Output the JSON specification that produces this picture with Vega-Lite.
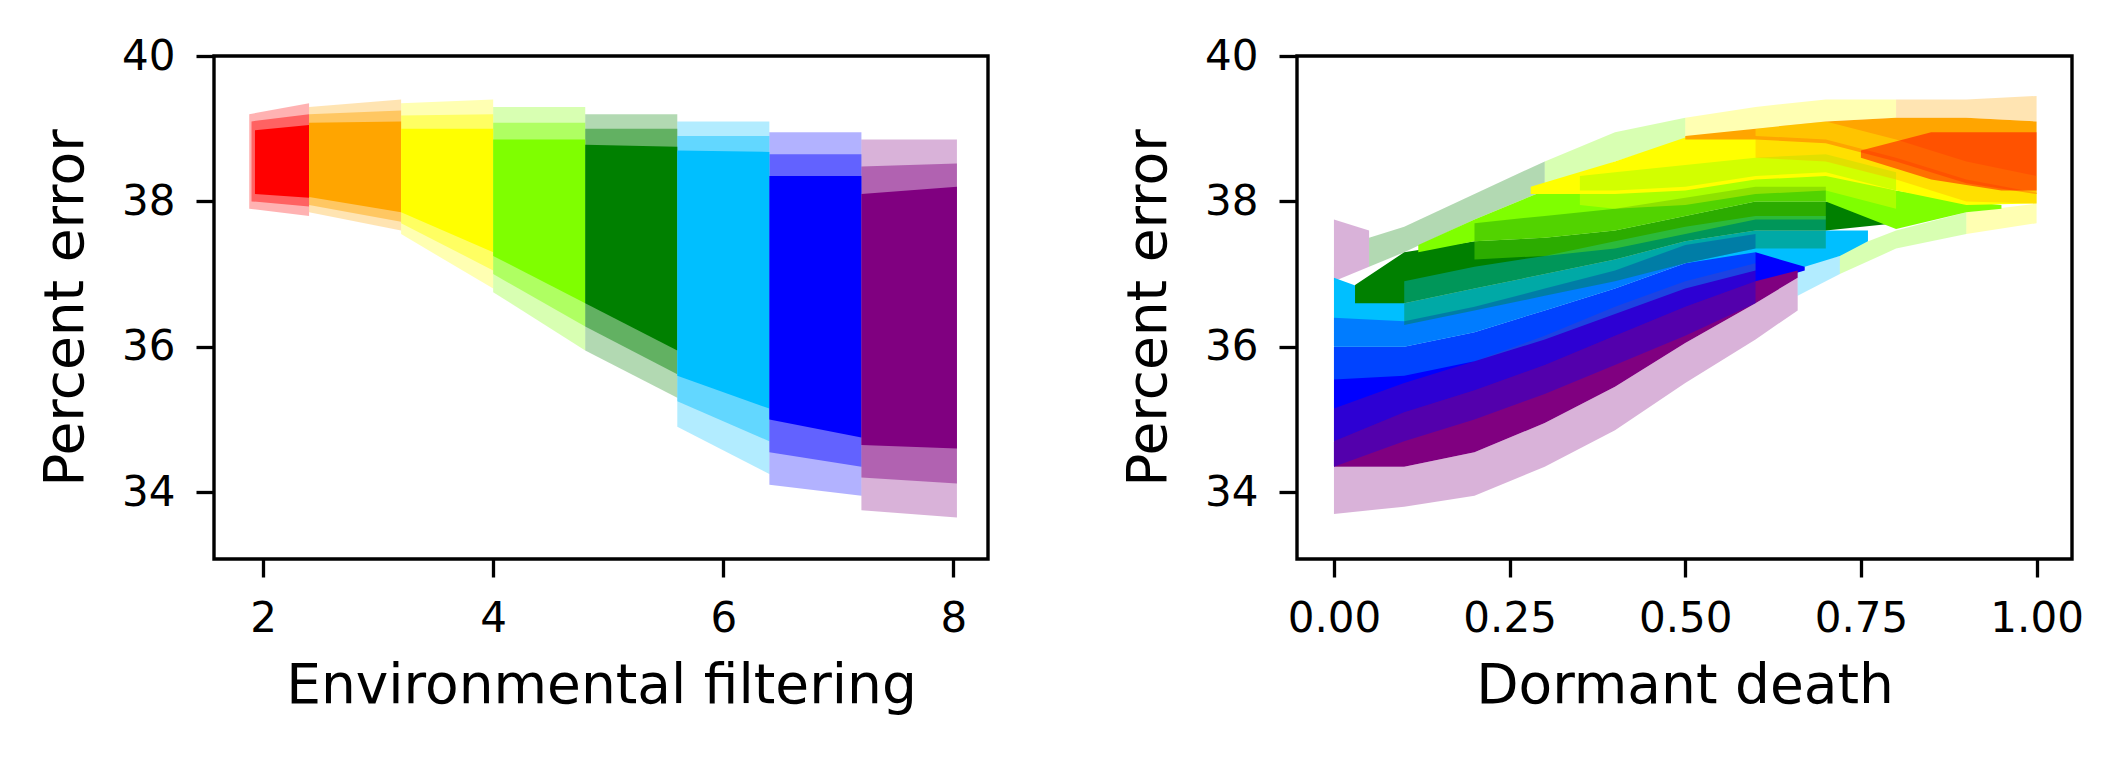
{
  "$schema": "https://vega.github.io/schema/vega-lite/v6.json",
  "padding": {"left": 36, "top": 33, "right": 10, "bottom": 10},
  "background": "white",
  "spacing": 129,
  "datasets": {
    "L": [
      {"s": "0a", "c": "#ff0000", "o": 0.3, "x": 1.88, "lo": 37.9, "hi": 39.2},
      {"s": "0a", "c": "#ff0000", "o": 0.3, "x": 2.4, "lo": 37.8, "hi": 39.35},
      {"s": "0b", "c": "#ffa500", "o": 0.3, "x": 2.4, "lo": 37.85, "hi": 39.3},
      {"s": "0b", "c": "#ffa500", "o": 0.3, "x": 3.2, "lo": 37.6, "hi": 39.4},
      {"s": "0c", "c": "#ffff00", "o": 0.3, "x": 3.2, "lo": 37.55, "hi": 39.35},
      {"s": "0c", "c": "#ffff00", "o": 0.3, "x": 4.0, "lo": 36.8, "hi": 39.4},
      {"s": "0d", "c": "#7fff00", "o": 0.3, "x": 4.0, "lo": 36.75, "hi": 39.3},
      {"s": "0d", "c": "#7fff00", "o": 0.3, "x": 4.8, "lo": 35.95, "hi": 39.3},
      {"s": "0e", "c": "#008000", "o": 0.3, "x": 4.8, "lo": 35.95, "hi": 39.2},
      {"s": "0e", "c": "#008000", "o": 0.3, "x": 5.6, "lo": 35.3, "hi": 39.2},
      {"s": "0f", "c": "#00bfff", "o": 0.3, "x": 5.6, "lo": 34.9, "hi": 39.1},
      {"s": "0f", "c": "#00bfff", "o": 0.3, "x": 6.4, "lo": 34.25, "hi": 39.1},
      {"s": "0g", "c": "#0000ff", "o": 0.3, "x": 6.4, "lo": 34.1, "hi": 38.95},
      {"s": "0g", "c": "#0000ff", "o": 0.3, "x": 7.2, "lo": 33.95, "hi": 38.95},
      {"s": "0h", "c": "#800080", "o": 0.3, "x": 7.2, "lo": 33.75, "hi": 38.85},
      {"s": "0h", "c": "#800080", "o": 0.3, "x": 8.03, "lo": 33.65, "hi": 38.85},
      {"s": "1a", "c": "#ff0000", "o": 0.45, "x": 1.9, "lo": 38.0, "hi": 39.1},
      {"s": "1a", "c": "#ff0000", "o": 0.45, "x": 2.4, "lo": 37.93, "hi": 39.2},
      {"s": "1b", "c": "#ffa500", "o": 0.45, "x": 2.4, "lo": 37.95, "hi": 39.2},
      {"s": "1b", "c": "#ffa500", "o": 0.45, "x": 3.2, "lo": 37.72, "hi": 39.25},
      {"s": "1c", "c": "#ffff00", "o": 0.45, "x": 3.2, "lo": 37.7, "hi": 39.18},
      {"s": "1c", "c": "#ffff00", "o": 0.45, "x": 4.0, "lo": 37.05, "hi": 39.2},
      {"s": "1d", "c": "#7fff00", "o": 0.45, "x": 4.0, "lo": 37.0, "hi": 39.08},
      {"s": "1d", "c": "#7fff00", "o": 0.45, "x": 4.8, "lo": 36.28, "hi": 39.08},
      {"s": "1e", "c": "#008000", "o": 0.45, "x": 4.8, "lo": 36.28, "hi": 39.0},
      {"s": "1e", "c": "#008000", "o": 0.45, "x": 5.6, "lo": 35.62, "hi": 39.0},
      {"s": "1f", "c": "#00bfff", "o": 0.45, "x": 5.6, "lo": 35.25, "hi": 38.9},
      {"s": "1f", "c": "#00bfff", "o": 0.45, "x": 6.4, "lo": 34.7, "hi": 38.9},
      {"s": "1g", "c": "#0000ff", "o": 0.45, "x": 6.4, "lo": 34.55, "hi": 38.65},
      {"s": "1g", "c": "#0000ff", "o": 0.45, "x": 7.2, "lo": 34.35, "hi": 38.65},
      {"s": "1h", "c": "#800080", "o": 0.45, "x": 7.2, "lo": 34.2, "hi": 38.48},
      {"s": "1h", "c": "#800080", "o": 0.45, "x": 8.03, "lo": 34.12, "hi": 38.52},
      {"s": "2a", "c": "#ff0000", "o": 1, "x": 1.93, "lo": 38.1, "hi": 38.98},
      {"s": "2a", "c": "#ff0000", "o": 1, "x": 2.4, "lo": 38.05, "hi": 39.05},
      {"s": "2b", "c": "#ffa500", "o": 1, "x": 2.4, "lo": 38.06, "hi": 39.08},
      {"s": "2b", "c": "#ffa500", "o": 1, "x": 3.2, "lo": 37.85, "hi": 39.1},
      {"s": "2c", "c": "#ffff00", "o": 1, "x": 3.2, "lo": 37.85, "hi": 39.0},
      {"s": "2c", "c": "#ffff00", "o": 1, "x": 4.0, "lo": 37.3, "hi": 39.0},
      {"s": "2d", "c": "#7fff00", "o": 1, "x": 4.0, "lo": 37.25, "hi": 38.85},
      {"s": "2d", "c": "#7fff00", "o": 1, "x": 4.8, "lo": 36.6, "hi": 38.85},
      {"s": "2e", "c": "#008000", "o": 1, "x": 4.8, "lo": 36.6, "hi": 38.78},
      {"s": "2e", "c": "#008000", "o": 1, "x": 5.6, "lo": 35.95, "hi": 38.75},
      {"s": "2f", "c": "#00bfff", "o": 1, "x": 5.6, "lo": 35.6, "hi": 38.7},
      {"s": "2f", "c": "#00bfff", "o": 1, "x": 6.4, "lo": 35.15, "hi": 38.68},
      {"s": "2g", "c": "#0000ff", "o": 1, "x": 6.4, "lo": 35.0, "hi": 38.35},
      {"s": "2g", "c": "#0000ff", "o": 1, "x": 7.2, "lo": 34.75, "hi": 38.35},
      {"s": "2h", "c": "#800080", "o": 1, "x": 7.2, "lo": 34.65, "hi": 38.1},
      {"s": "2h", "c": "#800080", "o": 1, "x": 8.03, "lo": 34.6, "hi": 38.2}
    ],
    "R": [
      {"s": "0a", "c": "#800080", "o": 0.3, "x": 0.0, "lo": 36.9, "hi": 37.75},
      {"s": "0a", "c": "#800080", "o": 0.3, "x": 0.05, "lo": 37.1, "hi": 37.6},
      {"s": "0b", "c": "#008000", "o": 0.3, "x": 0.05, "lo": 37.1, "hi": 37.5},
      {"s": "0b", "c": "#008000", "o": 0.3, "x": 0.1, "lo": 37.3, "hi": 37.65},
      {"s": "0b", "c": "#008000", "o": 0.3, "x": 0.2, "lo": 37.75, "hi": 38.1},
      {"s": "0b", "c": "#008000", "o": 0.3, "x": 0.3, "lo": 38.15, "hi": 38.55},
      {"s": "0c", "c": "#7fff00", "o": 0.3, "x": 0.3, "lo": 38.15, "hi": 38.55},
      {"s": "0c", "c": "#7fff00", "o": 0.3, "x": 0.4, "lo": 38.55, "hi": 38.95},
      {"s": "0c", "c": "#7fff00", "o": 0.3, "x": 0.5, "lo": 38.85, "hi": 39.15},
      {"s": "0d", "c": "#ffff00", "o": 0.3, "x": 0.5, "lo": 38.85, "hi": 39.15},
      {"s": "0d", "c": "#ffff00", "o": 0.3, "x": 0.6, "lo": 39.0, "hi": 39.3},
      {"s": "0d", "c": "#ffff00", "o": 0.3, "x": 0.7, "lo": 39.1, "hi": 39.4},
      {"s": "0d", "c": "#ffff00", "o": 0.3, "x": 0.8, "lo": 39.15, "hi": 39.4},
      {"s": "0e", "c": "#ffa500", "o": 0.3, "x": 0.8, "lo": 39.15, "hi": 39.4},
      {"s": "0e", "c": "#ffa500", "o": 0.3, "x": 0.9, "lo": 39.15, "hi": 39.4},
      {"s": "0e", "c": "#ffa500", "o": 0.3, "x": 1.0, "lo": 39.1, "hi": 39.45},
      {"s": "0f", "c": "#800080", "o": 0.3, "x": 0.0, "lo": 33.7, "hi": 34.35},
      {"s": "0f", "c": "#800080", "o": 0.3, "x": 0.1, "lo": 33.8, "hi": 34.35},
      {"s": "0f", "c": "#800080", "o": 0.3, "x": 0.2, "lo": 33.95, "hi": 34.55},
      {"s": "0f", "c": "#800080", "o": 0.3, "x": 0.3, "lo": 34.35, "hi": 34.95},
      {"s": "0f", "c": "#800080", "o": 0.3, "x": 0.4, "lo": 34.85, "hi": 35.45},
      {"s": "0f", "c": "#800080", "o": 0.3, "x": 0.5, "lo": 35.5, "hi": 36.05},
      {"s": "0f", "c": "#800080", "o": 0.3, "x": 0.6, "lo": 36.1, "hi": 36.6},
      {"s": "0f", "c": "#800080", "o": 0.3, "x": 0.66, "lo": 36.5, "hi": 36.95},
      {"s": "0g", "c": "#00bfff", "o": 0.3, "x": 0.66, "lo": 36.7, "hi": 37.1},
      {"s": "0g", "c": "#00bfff", "o": 0.3, "x": 0.72, "lo": 37.0, "hi": 37.25},
      {"s": "0h", "c": "#7fff00", "o": 0.3, "x": 0.72, "lo": 37.0, "hi": 37.3},
      {"s": "0h", "c": "#7fff00", "o": 0.3, "x": 0.8, "lo": 37.35, "hi": 37.6},
      {"s": "0h", "c": "#7fff00", "o": 0.3, "x": 0.9, "lo": 37.55, "hi": 37.85},
      {"s": "0i", "c": "#ffff00", "o": 0.3, "x": 0.9, "lo": 37.55, "hi": 37.85},
      {"s": "0i", "c": "#ffff00", "o": 0.3, "x": 1.0, "lo": 37.7, "hi": 37.97},
      {"s": "1a", "c": "#0000ff", "o": 1, "x": 0.0, "lo": 34.35, "hi": 36.0},
      {"s": "1a", "c": "#0000ff", "o": 1, "x": 0.1, "lo": 34.9, "hi": 36.0},
      {"s": "1a", "c": "#0000ff", "o": 1, "x": 0.2, "lo": 35.3, "hi": 36.2},
      {"s": "1a", "c": "#0000ff", "o": 1, "x": 0.3, "lo": 35.7, "hi": 36.5},
      {"s": "1a", "c": "#0000ff", "o": 1, "x": 0.4, "lo": 36.1, "hi": 36.8},
      {"s": "1a", "c": "#0000ff", "o": 1, "x": 0.5, "lo": 36.5, "hi": 37.15},
      {"s": "1a", "c": "#0000ff", "o": 1, "x": 0.6, "lo": 36.85, "hi": 37.35},
      {"s": "1a", "c": "#0000ff", "o": 1, "x": 0.67, "lo": 37.05, "hi": 37.4},
      {"s": "1b", "c": "#800080", "o": 1, "x": 0.0, "lo": 34.35, "hi": 34.7},
      {"s": "1b", "c": "#800080", "o": 1, "x": 0.1, "lo": 34.35, "hi": 35.1},
      {"s": "1b", "c": "#800080", "o": 1, "x": 0.2, "lo": 34.55, "hi": 35.4},
      {"s": "1b", "c": "#800080", "o": 1, "x": 0.3, "lo": 34.95, "hi": 35.75},
      {"s": "1b", "c": "#800080", "o": 1, "x": 0.4, "lo": 35.45, "hi": 36.15},
      {"s": "1b", "c": "#800080", "o": 1, "x": 0.5, "lo": 36.05, "hi": 36.55},
      {"s": "1b", "c": "#800080", "o": 1, "x": 0.6, "lo": 36.6, "hi": 36.9},
      {"s": "1b", "c": "#800080", "o": 1, "x": 0.66, "lo": 36.95, "hi": 37.05},
      {"s": "1c", "c": "#00bfff", "o": 1, "x": 0.0, "lo": 36.0, "hi": 36.95},
      {"s": "1c", "c": "#00bfff", "o": 1, "x": 0.1, "lo": 36.0, "hi": 36.6},
      {"s": "1c", "c": "#00bfff", "o": 1, "x": 0.2, "lo": 36.2, "hi": 36.8},
      {"s": "1c", "c": "#00bfff", "o": 1, "x": 0.3, "lo": 36.5, "hi": 37.0},
      {"s": "1c", "c": "#00bfff", "o": 1, "x": 0.4, "lo": 36.8, "hi": 37.2},
      {"s": "1c", "c": "#00bfff", "o": 1, "x": 0.5, "lo": 37.15, "hi": 37.45},
      {"s": "1c", "c": "#00bfff", "o": 1, "x": 0.6, "lo": 37.3, "hi": 37.6},
      {"s": "1c", "c": "#00bfff", "o": 1, "x": 0.67, "lo": 37.1, "hi": 37.6},
      {"s": "1c", "c": "#00bfff", "o": 1, "x": 0.72, "lo": 37.25, "hi": 37.6},
      {"s": "1c", "c": "#00bfff", "o": 1, "x": 0.76, "lo": 37.45, "hi": 37.6},
      {"s": "1d", "c": "#008000", "o": 1, "x": 0.03, "lo": 36.6, "hi": 36.85},
      {"s": "1d", "c": "#008000", "o": 1, "x": 0.1, "lo": 36.6, "hi": 37.3},
      {"s": "1d", "c": "#008000", "o": 1, "x": 0.2, "lo": 36.8, "hi": 37.45},
      {"s": "1d", "c": "#008000", "o": 1, "x": 0.3, "lo": 37.0, "hi": 37.5},
      {"s": "1d", "c": "#008000", "o": 1, "x": 0.4, "lo": 37.2, "hi": 37.6},
      {"s": "1d", "c": "#008000", "o": 1, "x": 0.5, "lo": 37.45, "hi": 37.8},
      {"s": "1d", "c": "#008000", "o": 1, "x": 0.6, "lo": 37.6, "hi": 38.0},
      {"s": "1d", "c": "#008000", "o": 1, "x": 0.7, "lo": 37.6, "hi": 38.0},
      {"s": "1d", "c": "#008000", "o": 1, "x": 0.8, "lo": 37.7, "hi": 37.85},
      {"s": "1e", "c": "#7fff00", "o": 1, "x": 0.12, "lo": 37.3, "hi": 37.4},
      {"s": "1e", "c": "#7fff00", "o": 1, "x": 0.2, "lo": 37.45, "hi": 37.75},
      {"s": "1e", "c": "#7fff00", "o": 1, "x": 0.3, "lo": 37.5, "hi": 38.15},
      {"s": "1e", "c": "#7fff00", "o": 1, "x": 0.4, "lo": 37.6, "hi": 38.15},
      {"s": "1e", "c": "#7fff00", "o": 1, "x": 0.5, "lo": 37.8, "hi": 38.2},
      {"s": "1e", "c": "#7fff00", "o": 1, "x": 0.6, "lo": 38.0, "hi": 38.35},
      {"s": "1e", "c": "#7fff00", "o": 1, "x": 0.7, "lo": 38.0, "hi": 38.4},
      {"s": "1e", "c": "#7fff00", "o": 1, "x": 0.8, "lo": 37.62, "hi": 38.15},
      {"s": "1e", "c": "#7fff00", "o": 1, "x": 0.9, "lo": 37.85, "hi": 38.0},
      {"s": "1e", "c": "#7fff00", "o": 1, "x": 0.95, "lo": 37.9, "hi": 37.95},
      {"s": "1f", "c": "#ffff00", "o": 1, "x": 0.28, "lo": 38.1, "hi": 38.2},
      {"s": "1f", "c": "#ffff00", "o": 1, "x": 0.4, "lo": 38.1, "hi": 38.55},
      {"s": "1f", "c": "#ffff00", "o": 1, "x": 0.5, "lo": 38.15, "hi": 38.88},
      {"s": "1f", "c": "#ffff00", "o": 1, "x": 0.6, "lo": 38.3, "hi": 38.9},
      {"s": "1f", "c": "#ffff00", "o": 1, "x": 0.7, "lo": 38.35, "hi": 38.85},
      {"s": "1f", "c": "#ffff00", "o": 1, "x": 0.8, "lo": 38.15, "hi": 38.6},
      {"s": "1f", "c": "#ffff00", "o": 1, "x": 0.9, "lo": 37.95, "hi": 38.3},
      {"s": "1f", "c": "#ffff00", "o": 1, "x": 1.0, "lo": 37.97, "hi": 38.12},
      {"s": "1g", "c": "#ffa500", "o": 1, "x": 0.5, "lo": 38.85, "hi": 38.9},
      {"s": "1g", "c": "#ffa500", "o": 1, "x": 0.6, "lo": 38.85, "hi": 39.0},
      {"s": "1g", "c": "#ffa500", "o": 1, "x": 0.7, "lo": 38.8, "hi": 39.1},
      {"s": "1g", "c": "#ffa500", "o": 1, "x": 0.8, "lo": 38.55, "hi": 39.15},
      {"s": "1g", "c": "#ffa500", "o": 1, "x": 0.9, "lo": 38.25, "hi": 39.15},
      {"s": "1g", "c": "#ffa500", "o": 1, "x": 1.0, "lo": 38.1, "hi": 39.1},
      {"s": "2a", "c": "#0000ff", "o": 0.35, "x": 0.0, "lo": 34.35, "hi": 34.7},
      {"s": "2a", "c": "#0000ff", "o": 0.35, "x": 0.1, "lo": 34.7, "hi": 35.1},
      {"s": "2a", "c": "#0000ff", "o": 0.35, "x": 0.2, "lo": 35.0, "hi": 35.4},
      {"s": "2a", "c": "#0000ff", "o": 0.35, "x": 0.3, "lo": 35.35, "hi": 35.75},
      {"s": "2a", "c": "#0000ff", "o": 0.35, "x": 0.4, "lo": 35.75, "hi": 36.15},
      {"s": "2a", "c": "#0000ff", "o": 0.35, "x": 0.5, "lo": 36.15, "hi": 36.55},
      {"s": "2a", "c": "#0000ff", "o": 0.35, "x": 0.6, "lo": 36.6, "hi": 36.9},
      {"s": "2b", "c": "#800080", "o": 0.35, "x": 0.0, "lo": 34.7, "hi": 35.15},
      {"s": "2b", "c": "#800080", "o": 0.35, "x": 0.1, "lo": 35.1, "hi": 35.5},
      {"s": "2b", "c": "#800080", "o": 0.35, "x": 0.2, "lo": 35.4, "hi": 35.8},
      {"s": "2b", "c": "#800080", "o": 0.35, "x": 0.3, "lo": 35.75, "hi": 36.15},
      {"s": "2b", "c": "#800080", "o": 0.35, "x": 0.4, "lo": 36.15, "hi": 36.55},
      {"s": "2b", "c": "#800080", "o": 0.35, "x": 0.5, "lo": 36.55, "hi": 36.9},
      {"s": "2b", "c": "#800080", "o": 0.35, "x": 0.6, "lo": 36.9, "hi": 37.15},
      {"s": "2c", "c": "#00bfff", "o": 0.35, "x": 0.0, "lo": 35.55, "hi": 36.0},
      {"s": "2c", "c": "#00bfff", "o": 0.35, "x": 0.1, "lo": 35.6, "hi": 36.0},
      {"s": "2c", "c": "#00bfff", "o": 0.35, "x": 0.2, "lo": 35.8, "hi": 36.2},
      {"s": "2c", "c": "#00bfff", "o": 0.35, "x": 0.3, "lo": 36.1, "hi": 36.5},
      {"s": "2c", "c": "#00bfff", "o": 0.35, "x": 0.4, "lo": 36.45, "hi": 36.8},
      {"s": "2c", "c": "#00bfff", "o": 0.35, "x": 0.5, "lo": 36.8, "hi": 37.15},
      {"s": "2c", "c": "#00bfff", "o": 0.35, "x": 0.6, "lo": 37.05, "hi": 37.35},
      {"s": "2d", "c": "#0000ff", "o": 0.35, "x": 0.0, "lo": 36.0, "hi": 36.4},
      {"s": "2d", "c": "#0000ff", "o": 0.35, "x": 0.1, "lo": 36.0, "hi": 36.35},
      {"s": "2d", "c": "#0000ff", "o": 0.35, "x": 0.2, "lo": 36.2, "hi": 36.55},
      {"s": "2d", "c": "#0000ff", "o": 0.35, "x": 0.3, "lo": 36.5, "hi": 36.8},
      {"s": "2d", "c": "#0000ff", "o": 0.35, "x": 0.4, "lo": 36.8, "hi": 37.05},
      {"s": "2d", "c": "#0000ff", "o": 0.35, "x": 0.5, "lo": 37.15, "hi": 37.4},
      {"s": "2d", "c": "#0000ff", "o": 0.35, "x": 0.6, "lo": 37.35, "hi": 37.55},
      {"s": "2e", "c": "#008000", "o": 0.35, "x": 0.1, "lo": 36.3, "hi": 36.6},
      {"s": "2e", "c": "#008000", "o": 0.35, "x": 0.2, "lo": 36.5, "hi": 36.8},
      {"s": "2e", "c": "#008000", "o": 0.35, "x": 0.3, "lo": 36.7, "hi": 37.0},
      {"s": "2e", "c": "#008000", "o": 0.35, "x": 0.4, "lo": 36.9, "hi": 37.2},
      {"s": "2e", "c": "#008000", "o": 0.35, "x": 0.5, "lo": 37.15, "hi": 37.45},
      {"s": "2e", "c": "#008000", "o": 0.35, "x": 0.6, "lo": 37.35, "hi": 37.6},
      {"s": "2e", "c": "#008000", "o": 0.35, "x": 0.7, "lo": 37.35, "hi": 37.6},
      {"s": "2f", "c": "#00bfff", "o": 0.35, "x": 0.1, "lo": 36.6, "hi": 36.9},
      {"s": "2f", "c": "#00bfff", "o": 0.35, "x": 0.2, "lo": 36.8, "hi": 37.1},
      {"s": "2f", "c": "#00bfff", "o": 0.35, "x": 0.3, "lo": 37.0, "hi": 37.25},
      {"s": "2f", "c": "#00bfff", "o": 0.35, "x": 0.4, "lo": 37.2, "hi": 37.45},
      {"s": "2f", "c": "#00bfff", "o": 0.35, "x": 0.5, "lo": 37.45, "hi": 37.65},
      {"s": "2f", "c": "#00bfff", "o": 0.35, "x": 0.6, "lo": 37.6, "hi": 37.8},
      {"s": "2f", "c": "#00bfff", "o": 0.35, "x": 0.7, "lo": 37.6, "hi": 37.8},
      {"s": "2g", "c": "#7fff00", "o": 0.35, "x": 0.2, "lo": 37.2, "hi": 37.45},
      {"s": "2g", "c": "#7fff00", "o": 0.35, "x": 0.3, "lo": 37.25, "hi": 37.5},
      {"s": "2g", "c": "#7fff00", "o": 0.35, "x": 0.4, "lo": 37.35, "hi": 37.6},
      {"s": "2g", "c": "#7fff00", "o": 0.35, "x": 0.5, "lo": 37.55, "hi": 37.8},
      {"s": "2g", "c": "#7fff00", "o": 0.35, "x": 0.6, "lo": 37.75, "hi": 38.0},
      {"s": "2g", "c": "#7fff00", "o": 0.35, "x": 0.7, "lo": 37.75, "hi": 38.0},
      {"s": "2h", "c": "#008000", "o": 0.35, "x": 0.2, "lo": 37.45, "hi": 37.7},
      {"s": "2h", "c": "#008000", "o": 0.35, "x": 0.3, "lo": 37.5, "hi": 37.8},
      {"s": "2h", "c": "#008000", "o": 0.35, "x": 0.4, "lo": 37.6, "hi": 37.9},
      {"s": "2h", "c": "#008000", "o": 0.35, "x": 0.5, "lo": 37.8, "hi": 38.05},
      {"s": "2h", "c": "#008000", "o": 0.35, "x": 0.6, "lo": 38.0, "hi": 38.2},
      {"s": "2h", "c": "#008000", "o": 0.35, "x": 0.7, "lo": 38.0, "hi": 38.2},
      {"s": "2i", "c": "#ffff00", "o": 0.35, "x": 0.35, "lo": 37.95, "hi": 38.15},
      {"s": "2i", "c": "#ffff00", "o": 0.35, "x": 0.4, "lo": 37.9, "hi": 38.15},
      {"s": "2i", "c": "#ffff00", "o": 0.35, "x": 0.5, "lo": 37.95, "hi": 38.2},
      {"s": "2i", "c": "#ffff00", "o": 0.35, "x": 0.6, "lo": 38.1, "hi": 38.35},
      {"s": "2i", "c": "#ffff00", "o": 0.35, "x": 0.7, "lo": 38.15, "hi": 38.4},
      {"s": "2i", "c": "#ffff00", "o": 0.35, "x": 0.8, "lo": 37.9, "hi": 38.15},
      {"s": "2j", "c": "#7fff00", "o": 0.35, "x": 0.35, "lo": 38.15, "hi": 38.35},
      {"s": "2j", "c": "#7fff00", "o": 0.35, "x": 0.4, "lo": 38.15, "hi": 38.4},
      {"s": "2j", "c": "#7fff00", "o": 0.35, "x": 0.5, "lo": 38.2, "hi": 38.5},
      {"s": "2j", "c": "#7fff00", "o": 0.35, "x": 0.6, "lo": 38.35, "hi": 38.6},
      {"s": "2j", "c": "#7fff00", "o": 0.35, "x": 0.7, "lo": 38.4, "hi": 38.65},
      {"s": "2j", "c": "#7fff00", "o": 0.35, "x": 0.8, "lo": 38.15, "hi": 38.4},
      {"s": "2k", "c": "#ffa500", "o": 0.35, "x": 0.6, "lo": 38.6, "hi": 38.9},
      {"s": "2k", "c": "#ffa500", "o": 0.35, "x": 0.7, "lo": 38.55, "hi": 38.85},
      {"s": "2k", "c": "#ffa500", "o": 0.35, "x": 0.8, "lo": 38.3, "hi": 38.6},
      {"s": "2k", "c": "#ffa500", "o": 0.35, "x": 0.9, "lo": 38.0, "hi": 38.3},
      {"s": "2k", "c": "#ffa500", "o": 0.35, "x": 1.0, "lo": 37.97, "hi": 38.12},
      {"s": "2l", "c": "#ffff00", "o": 0.35, "x": 0.6, "lo": 38.9, "hi": 39.0},
      {"s": "2l", "c": "#ffff00", "o": 0.35, "x": 0.7, "lo": 38.85, "hi": 39.1},
      {"s": "2l", "c": "#ffff00", "o": 0.35, "x": 0.8, "lo": 38.6, "hi": 38.85},
      {"s": "2l", "c": "#ffff00", "o": 0.35, "x": 0.9, "lo": 38.3, "hi": 38.55},
      {"s": "2l", "c": "#ffff00", "o": 0.35, "x": 1.0, "lo": 38.12, "hi": 38.35},
      {"s": "3a", "c": "#ff0000", "o": 0.5, "x": 0.75, "lo": 38.6, "hi": 38.7},
      {"s": "3a", "c": "#ff0000", "o": 0.5, "x": 0.85, "lo": 38.3, "hi": 38.95},
      {"s": "3a", "c": "#ff0000", "o": 0.5, "x": 0.95, "lo": 38.15, "hi": 38.95},
      {"s": "3a", "c": "#ff0000", "o": 0.5, "x": 1.0, "lo": 38.15, "hi": 38.95}
    ]
  },
  "hconcat": [
    {
      "width": 774,
      "height": 503,
      "data": {"name": "L"},
      "mark": {"type": "area", "interpolate": "linear"},
      "encoding": {
        "x": {"field": "x", "type": "quantitative", "scale": {"domain": [1.574, 8.3], "nice": false, "zero": false}, "axis": {"values": [2, 4, 6, 8], "format": "d", "title": "Environmental filtering"}},
        "y": {"field": "lo", "type": "quantitative", "scale": {"domain": [33.08, 40], "nice": false, "zero": false}, "axis": {"values": [34, 36, 38, 40], "format": "d", "title": "Percent error"}},
        "y2": {"field": "hi"},
        "color": {"field": "c", "type": "nominal", "scale": null},
        "detail": {"field": "s", "type": "nominal"},
        "opacity": {"field": "o", "type": "quantitative", "scale": null}
      }
    },
    {
      "width": 775,
      "height": 503,
      "data": {"name": "R"},
      "mark": {"type": "area", "interpolate": "linear"},
      "encoding": {
        "x": {"field": "x", "type": "quantitative", "scale": {"domain": [-0.0526, 1.0504], "nice": false, "zero": false}, "axis": {"values": [0, 0.25, 0.5, 0.75, 1.0], "format": ".2f", "title": "Dormant death"}},
        "y": {"field": "lo", "type": "quantitative", "scale": {"domain": [33.08, 40], "nice": false, "zero": false}, "axis": {"values": [34, 36, 38, 40], "format": "d", "title": "Percent error"}},
        "y2": {"field": "hi"},
        "color": {"field": "c", "type": "nominal", "scale": null},
        "detail": {"field": "s", "type": "nominal"},
        "opacity": {"field": "o", "type": "quantitative", "scale": null}
      }
    }
  ],
  "config": {
    "font": "DejaVu Sans",
    "view": {"stroke": "black", "strokeWidth": 3.4},
    "axis": {
      "domain": false, "grid": false, "ticks": true,
      "tickColor": "black", "tickSize": 18, "tickWidth": 3.3,
      "labelFont": "DejaVu Sans", "labelFontSize": 42, "labelColor": "black",
      "labelPadding": 21, "labelFlush": false, "labelOverlap": false, "labelBound": false,
      "titleFont": "DejaVu Sans", "titleFontSize": 55, "titleFontWeight": "normal", "titleColor": "black",
      "titlePadding": 27
    },
    "axisX": {"titlePadding": 20}
  }
}
